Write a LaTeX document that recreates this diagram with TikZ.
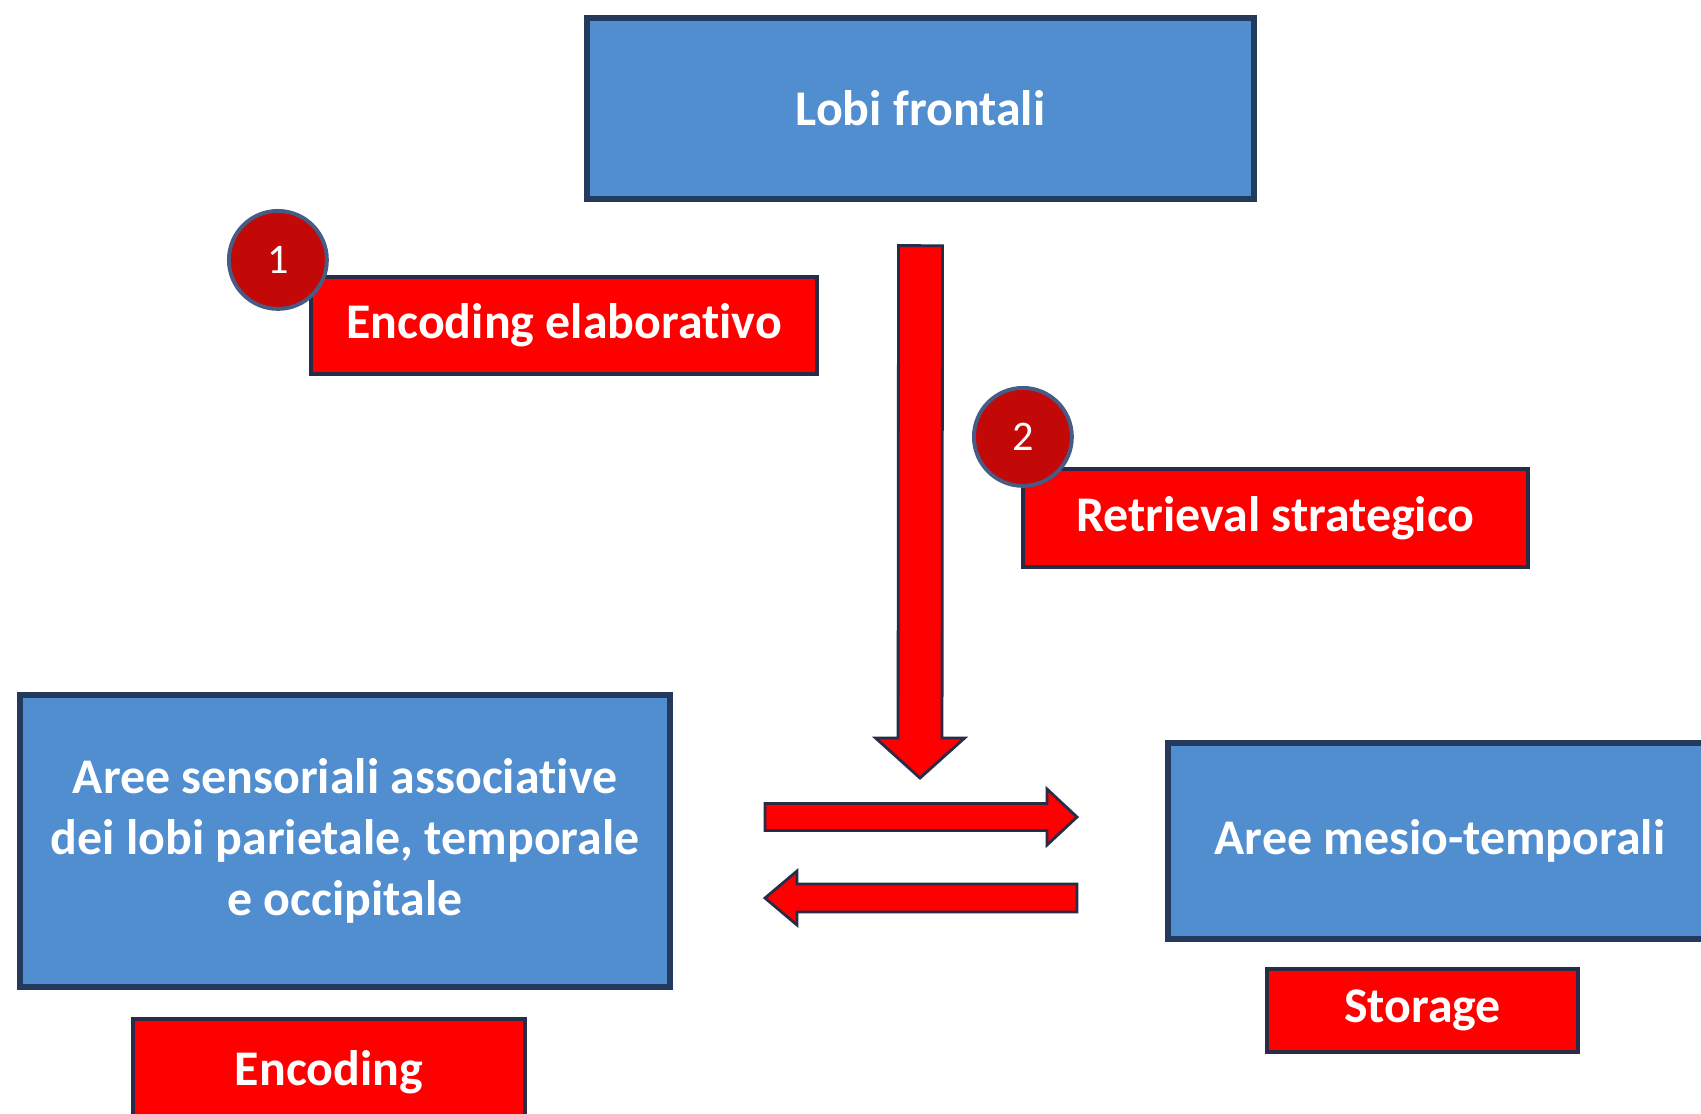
\documentclass[tikz,border=0pt]{standalone}
\usepackage{fontspec}
\setmainfont{Carlito}[Ligatures=NoCommon]
\usetikzlibrary{calc,positioning}
\definecolor{boxblue}{RGB}{80,142,208}
\definecolor{boxedge}{RGB}{35,58,92}
\definecolor{tagedge}{RGB}{40,44,70}
\definecolor{numred}{RGB}{195,8,8}
\definecolor{numedge}{RGB}{70,92,132}
\begin{document}
\begin{tikzpicture} [{area/.style={rectangle,draw=boxedge,fill=boxblue,line width=1.5pt,text=white,font=\bfseries\fontsize{14.2}{17.3}\selectfont,align=center,inner sep=0pt}},{tag/.style={rectangle,draw=tagedge,fill=red,line width=1.2pt,text=white,font=\bfseries\fontsize{14.2}{17.3}\selectfont,inner sep=0pt}},{num/.style={circle,draw=numedge,fill=numred,line width=1.1pt,text=white,font=\fontsize{12}{14}\selectfont,minimum size=0.98cm,inner sep=0pt}},{fatarrow/.style n args={3}{draw=tagedge,fill=red,line width=0.8pt,to path={let \p1=(\tikztostart), \p2=(\tikztotarget), \p3=($(\tikztotarget)!#3!(\tikztostart)$) in ($(\p1)!#1!90:(\p2)$) -- ($(\p3)!#1!-90:(\p1)$) -- ($(\p3)!#2!-90:(\p1)$) -- (\p2) -- ($(\p3)!#2!90:(\p1)$) -- ($(\p3)!#1!90:(\p1)$) -- ($(\p1)!#1!-90:(\p2)$) -- cycle}}}]
	\useasboundingbox (0,0) rectangle (17.01,-11.13);
	%%brain areas
	\node [area,minimum width=6.67cm,minimum height=1.81cm] (lobi) at (9.205,-1.085) {Lobi frontali};
	\node [area,minimum width=6.50cm,minimum height=2.92cm] (aree) at (3.45,-8.41) {Aree sensoriali associative\\dei lobi parietale, temporale\\e occipitale};
	\node [area,minimum width=5.44cm,minimum height=1.96cm] (mesio) at (14.40,-8.41) {Aree mesio-temporali};
	%%processes
	\node [tag,minimum width=5.06cm,minimum height=0.97cm] (encel) at (5.64,-3.255) {Encoding elaborativo};
	\node [tag,minimum width=5.05cm,minimum height=0.98cm] (retr) at (12.755,-5.18) {Retrieval strategico};
	\node [tag,minimum width=3.92cm,minimum height=1.06cm] (enc) at (3.29,-10.72) {Encoding};
	\node [tag,minimum width=3.11cm,minimum height=0.83cm] (stor) at (14.225,-10.105) {Storage};
	%%numbers
	\node [num] (n1) at ($(encel.north west)+(-0.31,0.15)$) {1};
	\node [num] (n2) at ($(retr.north west)+(0.02,0.30)$) {2};
	%%arrows
	\coordinate (D1) at ($(lobi.south)+(0,-0.44)$);
	\coordinate (D2) at (9.20,-7.78);
	\coordinate (R1) at (7.65,-8.17);
	\coordinate (R2) at (10.77,-8.17);
	\coordinate (L1) at (10.77,-8.98);
	\coordinate (L2) at (7.65,-8.98);
	\draw [fatarrow={0.22cm}{0.445cm}{0.40cm}] (D1) to (D2);
	\draw [fatarrow={0.135cm}{0.28cm}{0.30cm}] (R1) to (R2);
	\draw [fatarrow={0.14cm}{0.27cm}{0.32cm}] (L1) to (L2);
\end{tikzpicture}
\end{document}
